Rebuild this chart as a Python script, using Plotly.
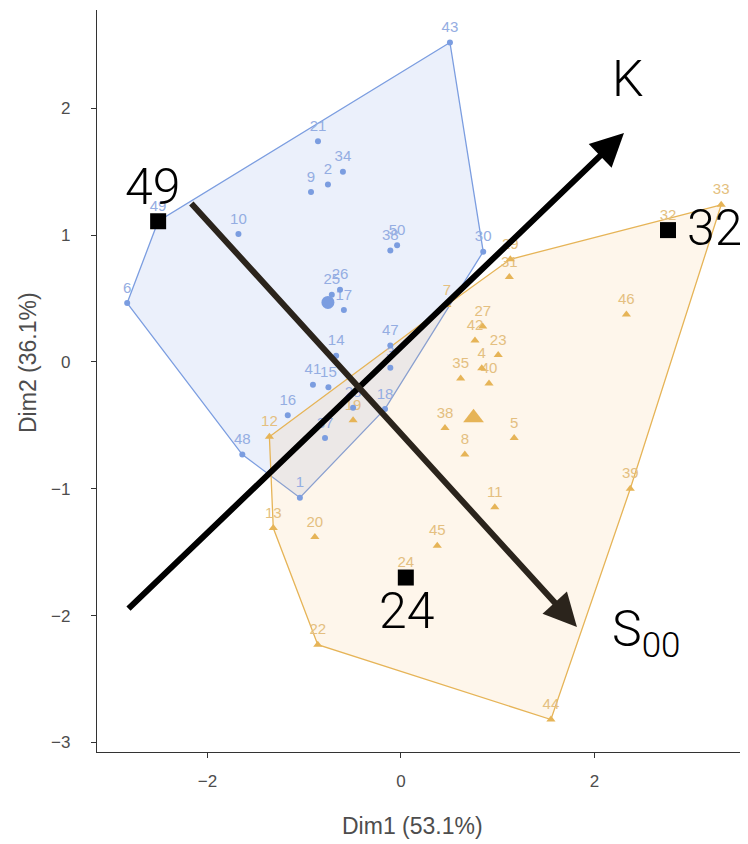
import plotly.graph_objects as go

# ---------------- data ----------------
blue_ids = [1, 2, 3, 6, 9, 10, 14, 15, 16, 17, 18, 21, 25, 26, 28, 30, 34, 37, 38, 41, 43, 47, 48, 49, 50]
blue_x = [-1.045, -0.755, -0.11, -2.83, -0.93, -1.68, -0.67, -0.75, -1.17, -0.59, -0.165, -0.858, -0.715, -0.63,
          -0.495, 0.85, -0.60, -0.785, -0.11, -0.91, 0.506, -0.11, -1.64, -2.51, -0.04]
blue_y = [-1.07, 1.40, -0.045, 0.465, 1.34, 1.01, 0.05, -0.20, -0.42, 0.41, -0.37, 1.74, 0.53, 0.57,
          -0.36, 0.87, 1.50, -0.60, 0.88, -0.18, 2.52, 0.13, -0.73, 1.11, 0.92]

orange_ids = [4, 5, 7, 8, 11, 12, 13, 19, 20, 22, 23, 24, 27, 29, 31, 32, 33, 35, 38, 39, 40, 42, 44, 45, 46]
orange_x = [0.835, 1.17, 0.475, 0.66, 0.97, -1.36, -1.32, -0.495, -0.89, -0.86, 1.005, 0.05, 0.845, 1.13,
            1.12, 2.76, 3.31, 0.617, 0.455, 2.37, 0.91, 0.765, 1.55, 0.375, 2.33]
orange_y = [-0.05, -0.60, 0.45, -0.73, -1.146, -0.59, -1.31, -0.46, -1.38, -2.23, 0.055, -1.70, 0.28, 0.81,
            0.67, 1.04, 1.24, -0.13, -0.52, -1.00, -0.17, 0.17, -2.82, -1.45, 0.375]

centroid_blue = (-0.755, 0.47)
centroid_orange = (0.75, -0.44)

highlight_ids = [49, 32, 24]

var_names = ["K", "S<sub>00</sub>"]
var_start_x = [-2.832, -2.181]
var_start_y = [-1.956, 1.262]
var_end_x = [2.305, 1.819]
var_end_y = [1.806, -2.09]

x_title = "Dim1 (53.1%)"
y_title = "Dim2 (36.1%)"
x_ticks = [-2, 0, 2]
y_ticks = [-3, -2, -1, 0, 1, 2]

# ---------------- helpers ----------------
def hull(xs, ys):
    pts = sorted(set(zip(xs, ys)))
    def cross(o, a, b):
        return (a[0] - o[0]) * (b[1] - o[1]) - (a[1] - o[1]) * (b[0] - o[0])
    lower, upper = [], []
    for p in pts:
        while len(lower) >= 2 and cross(lower[-2], lower[-1], p) <= 0:
            lower.pop()
        lower.append(p)
    for p in reversed(pts):
        while len(upper) >= 2 and cross(upper[-2], upper[-1], p) <= 0:
            upper.pop()
        upper.append(p)
    h = lower[:-1] + upper[:-1]
    h.append(h[0])
    return [p[0] for p in h], [p[1] for p in h]

BLUE = "#7b9de0"
BLUE_LBL = "#94ade2"
ORANGE = "#e6b457"
ORANGE_LBL = "#e4bf80"
BIGFONT = "Roboto, Liberation Sans Narrow, DejaVu Sans Condensed, sans-serif"
AXFONT = "Liberation Sans, Arial"

fig = go.Figure()

hbx, hby = hull(blue_x, blue_y)
hox, hoy = hull(orange_x, orange_y)
fig.add_trace(go.Scatter(x=hbx, y=hby, mode="lines", fill="toself",
                         fillcolor="rgba(110,150,225,0.14)", line=dict(color=BLUE, width=1.3),
                         hoverinfo="skip", showlegend=False))
fig.add_trace(go.Scatter(x=hox, y=hoy, mode="lines", fill="toself",
                         fillcolor="rgba(245,180,90,0.12)", line=dict(color=ORANGE, width=1.3),
                         hoverinfo="skip", showlegend=False))

# point labels (carried by transparent markers so they sit a little higher above the points)
fig.add_trace(go.Scatter(x=blue_x, y=blue_y, mode="markers+text", text=[str(i) for i in blue_ids],
                         textposition="top center", textfont=dict(size=15, color=BLUE_LBL, family=AXFONT),
                         marker=dict(size=9, opacity=0), hoverinfo="skip", showlegend=False))
fig.add_trace(go.Scatter(x=orange_x, y=orange_y, mode="markers+text", text=[str(i) for i in orange_ids],
                         textposition="top center", textfont=dict(size=15, color=ORANGE_LBL, family=AXFONT),
                         marker=dict(size=9, opacity=0), hoverinfo="skip", showlegend=False))

fig.add_trace(go.Scatter(x=blue_x, y=blue_y, mode="markers",
                         marker=dict(color=BLUE, size=6, symbol="circle"), showlegend=False))
fig.add_trace(go.Scatter(x=orange_x, y=orange_y, mode="markers",
                         marker=dict(color=ORANGE, size=8, symbol="triangle-up"), showlegend=False))

fig.add_trace(go.Scatter(x=[centroid_blue[0]], y=[centroid_blue[1]], mode="markers",
                         marker=dict(color=BLUE, size=13, symbol="circle"), showlegend=False))
fig.add_trace(go.Scatter(x=[centroid_orange[0]], y=[centroid_orange[1]], mode="markers",
                         marker=dict(color=ORANGE, size=18, symbol="triangle-up"), showlegend=False))

# highlighted samples
all_ids = blue_ids + orange_ids
all_x = blue_x + orange_x
all_y = blue_y + orange_y
hx = [all_x[all_ids.index(i)] for i in highlight_ids]
hy = [all_y[all_ids.index(i)] for i in highlight_ids]
fig.add_trace(go.Scatter(x=hx, y=hy, mode="markers",
                         marker=dict(color="black", size=16, symbol="square"), showlegend=False))

annotations = []
label_pos = {49: ("center", -6, 34), 32: ("right", 76, 2), 24: ("center", 1, -33)}
for i, x, y in zip(highlight_ids, hx, hy):
    anc, sx, sy = label_pos[i]
    annotations.append(dict(x=x, y=y, xref="x", yref="y", text=str(i), showarrow=False, xanchor=anc,
                            xshift=sx, yshift=sy, font=dict(size=50, color="black", family=BIGFONT, weight=300)))

arrow_colors = ["#000000", "#2b241c"]
for name, x0, y0, x1, y1, c in zip(var_names, var_start_x, var_start_y, var_end_x, var_end_y, arrow_colors):
    annotations.append(dict(x=x1, y=y1, ax=x0, ay=y0, xref="x", yref="y", axref="x", ayref="y",
                            text="", showarrow=True, arrowhead=2, arrowsize=1.1, arrowwidth=6,
                            arrowcolor=c, standoff=0, startstandoff=0))

# variable labels
annotations.append(dict(x=var_end_x[0], y=var_end_y[0], xref="x", yref="y", text=var_names[0],
                        showarrow=False, xshift=4, yshift=54,
                        font=dict(size=50, color="black", family=BIGFONT, weight=300)))
annotations.append(dict(x=var_end_x[1], y=var_end_y[1], xref="x", yref="y", text=var_names[1],
                        showarrow=False, xanchor="left", xshift=33, yshift=-6,
                        font=dict(size=50, color="black", family=BIGFONT, weight=300)))

# axis titles (paper coords relative to plot area)
annotations.append(dict(x=0.4839, y=-0.0997, xref="paper", yref="paper", text=x_title, showarrow=False,
                        xanchor="center", yanchor="middle",
                        font=dict(size=23, color="#4d4d4d", family=AXFONT)))
annotations.append(dict(x=-0.106, y=0.5256, xref="paper", yref="paper", text=y_title, showarrow=False,
                        textangle=-90, xanchor="center", yanchor="middle",
                        font=dict(size=23, color="#4d4d4d", family=AXFONT)))

# page body adds an 8px offset: figure is sized/margined so the plot area lands at 97..748 x 10..752
fig.update_layout(
    width=740, height=836,
    margin=dict(l=89, r=0, t=2, b=92),
    plot_bgcolor="white", paper_bgcolor="white",
    annotations=annotations,
    showlegend=False,
)
axis_common = dict(showgrid=False, zeroline=False, showline=True, linecolor="#333333", linewidth=1.3,
                   ticks="outside", ticklen=5, tickcolor="#333333", tickwidth=1.3, automargin=False,
                   tickfont=dict(size=17, color="#4d4d4d", family=AXFONT))
fig.update_xaxes(range=[-3.142, 3.587], tickvals=x_ticks, ticklabelstandoff=8, **axis_common)
fig.update_yaxes(range=[-3.076, 2.776], tickvals=y_ticks, ticklabelstandoff=17, **axis_common)

fig.write_html("out.html")
